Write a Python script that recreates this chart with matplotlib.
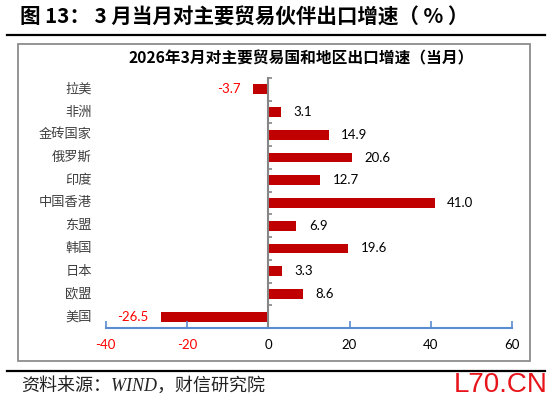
import matplotlib
matplotlib.use('Agg')
import matplotlib.pyplot as plt
from matplotlib.patches import Rectangle
from matplotlib.lines import Line2D
from matplotlib.transforms import blended_transform_factory
import numpy as np

categories = ['拉美', '非洲', '金砖国家', '俄罗斯', '印度', '中国香港', '东盟', '韩国', '日本', '欧盟', '美国']
values = [-3.7, 3.1, 14.9, 20.6, 12.7, 41.0, 6.9, 19.6, 3.3, 8.6, -26.5]
xticks = [-40, -20, 0, 20, 40, 60]

plt.rcParams['font.family'] = ['Noto Sans CJK SC', 'DejaVu Sans']

W, H = 550, 399
fig = plt.figure(figsize=(5.5, 3.99), dpi=100)


def fx(px):
    return px / W


def fy(py):
    return 1 - py / H


# outer frame of the chart
fig.patches.append(Rectangle((fx(17.6), fy(361)), fx(529.5) - fx(17.6), fy(44) - fy(361),
                             transform=fig.transFigure, fill=False, edgecolor='#8C8C8C', lw=1.3))
# title underline & source line
fig.lines.append(Line2D([fx(7), fx(545)], [fy(35), fy(35)], transform=fig.transFigure, color='black', lw=1.6))
fig.lines.append(Line2D([fx(7), fx(545)], [fy(371), fy(371)], transform=fig.transFigure, color='black', lw=1.6))

ax = fig.add_axes([fx(105.8), fy(328), fx(512) - fx(105.8), fy(78) - fy(328)])
y = np.arange(len(categories))
ax.barh(y, values, height=0.43, color='#C00000')
ax.set_ylim(len(categories) - 0.5, -0.5)
ax.set_xlim(-40, 60)
ax.patch.set_alpha(0)

for s in ['top', 'right']:
    ax.spines[s].set_visible(False)
ax.spines['left'].set_position(('data', 0))
ax.spines['left'].set_color('#868686')
ax.spines['left'].set_linewidth(1.5)
ax.spines['bottom'].set_color('#5B8BD0')
ax.spines['bottom'].set_linewidth(1.5)

ax.set_xticks(xticks)
ax.set_xticklabels([str(t) for t in xticks], fontfamily='Lato', fontsize=9.5)
for lbl, t in zip(ax.get_xticklabels(), xticks):
    lbl.set_color('#FF0000' if t < 0 else 'black')
ax.tick_params(axis='x', direction='in', length=5, width=1.2, color='#5B8BD0', pad=8)

ax.set_yticks([])
ax.set_yticks(np.arange(-0.5, len(categories), 1), minor=True)
ax.tick_params(axis='y', which='minor', direction='in', length=3, width=1.2, color='#868686')
ax.set_yticklabels([], minor=True)

tr = blended_transform_factory(ax.transAxes, ax.transData)
for i, c in enumerate(categories):
    ax.text(-0.034, i, c, transform=tr, ha='right', va='center', fontsize=9.5, color='#404040')

for i, v in enumerate(values):
    ax.annotate(f'{v:.1f}', xy=(v, i), xytext=(9 if v > 0 else -9, 0), textcoords='offset points',
                ha='left' if v > 0 else 'right', va='center', fontfamily='Lato', fontsize=9.5,
                color='black' if v > 0 else '#FF0000')

fig.text(fx(20), fy(17.6), '图 13： 3 月当月对主要贸易伙伴出口增速（ % ）', ha='left', va='center',
         fontsize=14.8, fontweight='bold')
fig.text(fx(301), fy(58), '2026年3月对主要贸易国和地区出口增速（当月）', ha='center', va='center',
         fontsize=11.3, fontweight='bold')
fig.text(fx(21), fy(386), '资料来源：WIND，财信研究院', ha='left', va='center', fontsize=13,
         style='italic', family=['Liberation Serif', 'Noto Sans CJK SC'], color='#222222')
fig.text(fx(548), fy(385.5), 'L70.CN', ha='right', va='center', fontsize=20, color='#E8141B',
         family='Liberation Sans')

fig.savefig('out.png', dpi=100)
